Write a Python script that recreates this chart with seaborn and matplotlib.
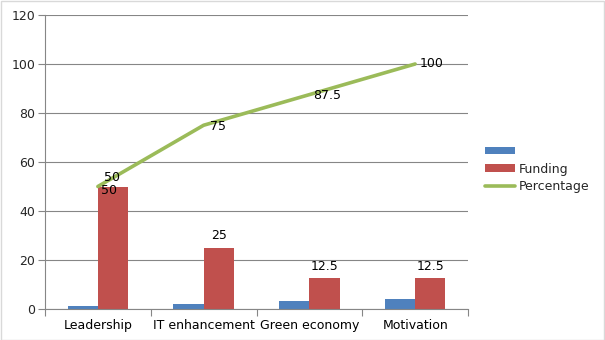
import numpy as np
import pandas as pd
import matplotlib
matplotlib.use("Agg")
import matplotlib.pyplot as plt
import seaborn as sns
from matplotlib.patches import Patch
from matplotlib.lines import Line2D

categories = ["Leadership", "IT enhancement", "Green economy", "Motivation"]
series1 = [1.3, 2.1, 3.3, 4.2]
funding = [50, 25, 12.5, 12.5]
percentage = [50, 75, 87.5, 100]
y_ticks = [0, 20, 40, 60, 80, 100, 120]

BLUE = "#4F81BD"
RED = "#C0504D"
GREEN = "#9BBB59"
GRID = "#868686"
FS = 9

sns.set_theme(style="white")
plt.rcParams["font.family"] = ["DejaVu Sans"]

fig = plt.figure(figsize=(6.05, 3.4), dpi=100)
ax = fig.add_axes([45 / 605, 1 - 309 / 340, 423 / 605, 294 / 340])

bars = pd.DataFrame({
    "category": categories * 2,
    "series": ["s1"] * 4 + ["Funding"] * 4,
    "value": series1 + funding,
})
sns.barplot(data=bars, x="category", y="value", hue="series",
            hue_order=["s1", "Funding"], palette=[BLUE, RED],
            width=0.57, saturation=1, linewidth=0, ax=ax, legend=False)

line = pd.DataFrame({"pos": np.arange(len(categories)), "value": percentage})
sns.lineplot(data=line, x="pos", y="value", color=GREEN, linewidth=2.6, ax=ax)

# value labels on the Funding bars
fund_bars = ax.containers[1]
for rect, v in zip(fund_bars, funding):
    cx = rect.get_x() + rect.get_width() / 2
    txt = f"{v:g}"
    if v >= 50:
        ax.text(cx - 0.04, v - 1.5, txt, ha="center", va="center", fontsize=FS, color="black")
    else:
        ax.text(cx, v + 5, txt, ha="center", va="center", fontsize=FS, color="black")

# value labels on the Percentage line
offsets = [(0.06, 3.5), (0.06, -0.5), (0.04, -0.5), (0.04, 0)]
for i, (v, (dx, dy)) in enumerate(zip(percentage, offsets)):
    ax.text(i + dx, v + dy, f"{v:g}", ha="left", va="center", fontsize=FS, color="black")

ax.set_xlim(-0.5, 3.5)
ax.set_ylim(0, 120)
ax.set_yticks(y_ticks)
ax.set_xlabel("")
ax.set_ylabel("")
ax.yaxis.grid(True, color=GRID, linewidth=0.8)
ax.set_axisbelow(True)

for side in ["top", "right"]:
    ax.spines[side].set_visible(False)
for side in ["left", "bottom"]:
    ax.spines[side].set_color(GRID)
    ax.spines[side].set_linewidth(0.8)

ax.set_xticks(range(len(categories)))
ax.set_xticklabels(categories, fontsize=FS)
ax.set_xticks(np.arange(-0.5, len(categories)), minor=True)
ax.tick_params(axis="x", which="major", length=0, pad=7, colors="black")
ax.tick_params(axis="x", which="minor", length=5, color=GRID, width=0.8, bottom=True)
ax.tick_params(axis="y", length=5, color=GRID, width=0.8, labelsize=FS, left=True, pad=2)

handles = [
    Patch(facecolor=BLUE, edgecolor="none"),
    Patch(facecolor=RED, edgecolor="none"),
    Line2D([0], [0], color=GREEN, linewidth=2.6),
]
fig.legend(handles, ["", "Funding", "Percentage"], loc="center left",
           bbox_to_anchor=(474 / 605, 1 - 169 / 340), frameon=False,
           fontsize=FS, handlelength=2.35, handleheight=0.55, labelspacing=0.35,
           handletextpad=0.3)

# outer border of the chart area
fig.patches.append(plt.Rectangle((0.001, 0.001), 0.997, 0.997, transform=fig.transFigure,
                                 fill=False, edgecolor="#D9D9D9", linewidth=1))

fig.savefig("out.png", dpi=100)
